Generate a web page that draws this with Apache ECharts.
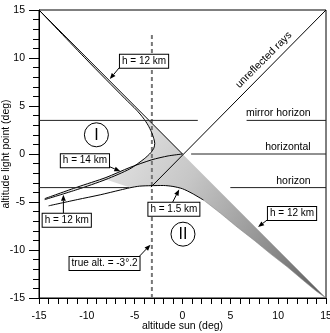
<!DOCTYPE html>
<html><head><meta charset="utf-8">
<script src="https://cdn.jsdelivr.net/npm/echarts@6/dist/echarts.min.js"></script>
<style>html,body{margin:0;padding:0;background:#fff}#c{width:330px;height:333px}</style>
</head><body><div id="c"></div>
<script>
// ---- data (degrees) ----
const unreflectedRays = [[-3.3,-3.45],[15,15]];
const diagH12 = [[-15,15],[0,0]];
const noseCurve = [[-15,15],[-10,9.8],[-6,5.75],[-4.8,4.57],[-4.1,3.75],[-3.6,3.0],[-3.25,2.3],[-3.0,1.6],[-2.9,1.1],[-3.0,0.6],[-3.3,0.15],[-4,-0.5],[-5.5,-1.55],[-8,-2.65],[-11,-3.7],[-14.4,-4.75]];
const lowerPair = [[-14.4,-4.65],[-11,-3.45],[-8,-2.45],[-5.5,-1.4],[-3.2,-0.6],[-1.5,-0.2],[0,0]];
const lowerBoundary = [[-14,-5.4],[-11,-4.75],[-8.6,-4.25],[-6.5,-3.75],[-5.5,-3.52],[-4.5,-3.35],[-3.3,-3.3],[-2,-3.28],[-1,-3.38],[0,-3.62],[1,-4.1],[2.2,-4.8]];
const bandLower = [[2.2,-4.8],[4,-6.2],[5.7,-7.6],[7.5,-9.0],[9.2,-10.4],[11,-11.8],[12.6,-13.15],[14,-14.3],[15,-15]];
const shadeRegion = [[-3.93,3.5],[-3.5,3.5],[0,0],[15,-15],[14,-14.3],[12.6,-13.15],[11,-11.8],[9.2,-10.4],[7.5,-9.0],[5.7,-7.6],[4,-6.2],[2.2,-4.8],[1,-4.1],[0,-3.62],[-1,-3.38],[-2,-3.28],[-3.3,-3.3],[-4.5,-3.35],[-5.5,-3.5],[-8,-2.65],[-11,-3.7],[-14.4,-4.72],[-11,-3.45],[-8,-2.45],[-5.5,-1.4],[-4.7,-1.1],[-4,-0.5],[-3.3,0.15],[-3.0,0.6],[-2.9,1.1],[-3.0,1.6],[-3.25,2.3],[-3.6,3.0]];
const mirrorHorizonL = [[-15,3.5],[1.6,3.5]];
const mirrorHorizonR = [[6.7,3.5],[15,3.5]];
const horizontalLine = [[0.9,0],[15,0]];
const horizonL = [[-15,-3.5],[-5.6,-3.5]];
const horizonR = [[5,-3.5],[15,-3.5]];
const trueAlt = [[-3.2,-15],[-3.2,12.6]];

const FONT = 'Liberation Sans, Arial, sans-serif';
const chart = echarts.init(document.getElementById('c'), null, {renderer:'canvas'});

function lineSeries(data, extra){
  return Object.assign({type:'line', data:data, symbol:'none', silent:true, animation:false, z:3,
    lineStyle:{color:'#000', width:1}}, extra||{});
}

const option = {
  animation:false,
  grid:{left:39, right:4, top:10, bottom:35, containLabel:false, outerBoundsMode:'none',
    show:true, borderColor:'#000', borderWidth:1, backgroundColor:'transparent'},
  xAxis:{type:'value', min:-15, max:15, interval:5,
    name:'altitude sun (deg)', nameLocation:'middle', nameGap:23, nameMoveOverlap:false,
    nameTextStyle:{color:'#000', fontSize:10.5, fontFamily:FONT},
    axisLine:{onZero:false, lineStyle:{color:'#000', width:1}},
    axisTick:{length:6, lineStyle:{color:'#000'}},
    minorTick:{show:true, splitNumber:5, length:6, lineStyle:{color:'#000'}},
    splitLine:{show:false},
    axisLabel:{color:'#000', fontSize:10.5, fontFamily:FONT, margin:13}},
  yAxis:{type:'value', min:-15, max:15, interval:5,
    name:'altitude light point (deg)', nameLocation:'middle', nameGap:27, nameRotate:90, nameMoveOverlap:false,
    nameTextStyle:{color:'#000', fontSize:10.5, fontFamily:FONT},
    axisLine:{onZero:false, lineStyle:{color:'#000', width:1}},
    axisTick:{length:10, lineStyle:{color:'#000'}},
    minorTick:{show:true, splitNumber:5, length:6, lineStyle:{color:'#000'}},
    splitLine:{show:false},
    axisLabel:{color:'#000', fontSize:10.5, fontFamily:FONT, margin:14}},
  series:[
    {type:'custom', coordinateSystem:'cartesian2d', data:[[0,0]], silent:true, z:1, clip:true,
      renderItem:function(params, api){
        const pts = shadeRegion.map(p=>api.coord(p));
        const a = api.coord([-14,2]), b = api.coord([15,-15]);
        return {type:'polygon', shape:{points:pts}, style:{
          fill:new echarts.graphic.LinearGradient(a[0],a[1],b[0],b[1],[
            {offset:0, color:'#ffffff'},{offset:0.12,color:'#f0f0f0'},{offset:0.22,color:'#e0e0e0'},
            {offset:0.32,color:'#d4d4d4'},{offset:0.45,color:'#c6c6c6'},{offset:0.6,color:'#acacac'},
            {offset:0.8,color:'#888888'},{offset:1,color:'#5a5a5a'}], true), stroke:null}};
      }},
    lineSeries(trueAlt, {lineStyle:{color:'#777', width:2, type:[4,3]}, z:2}),
    lineSeries(unreflectedRays),
    lineSeries(diagH12),
    lineSeries(noseCurve, {smooth:0.25}),
    lineSeries(lowerPair, {smooth:0.25}),
    lineSeries(lowerBoundary, {smooth:0.25}),
    lineSeries(bandLower, {smooth:0.2, lineStyle:{color:'#888', width:0.6}}),
    lineSeries(mirrorHorizonL, {lineStyle:{color:'#222', width:1}}),
    lineSeries(mirrorHorizonR, {lineStyle:{color:'#222', width:1}}),
    lineSeries(horizontalLine, {lineStyle:{color:'#222', width:1}}),
    lineSeries(horizonL, {lineStyle:{color:'#222', width:1}}),
    lineSeries(horizonR, {lineStyle:{color:'#222', width:1}})
  ]
};
chart.setOption(option);

// ---- annotations (anchored in data coordinates) ----
const boxes = [
  {text:'h = 12 km', at:[-4.02,9.65], from:[-6.6,9.0], to:[-7.6,7.8]},
  {text:'h = 14 km', at:[-10.2,-0.7], from:[-7.8,-1.25], to:[-6.5,-1.8]},
  {text:'h = 12 km', at:[-12.1,-6.9], from:[-12.45,-6.25], to:[-12.45,-4.25]},
  {text:'h = 1.5 km', at:[-0.9,-5.75], from:[-1.1,-5.15], to:[-0.35,-3.7]},
  {text:'h = 12 km', at:[11.45,-6.2], from:[8.95,-6.8], to:[7.9,-7.6]},
  {text:'true alt. = -3°.2', at:[-8.15,-11.4], from:[-4.5,-10.65], to:[-3.35,-9.45]}
];
const plain = [
  {text:'mirror horizon', at:[13.4,3.65]},
  {text:'horizontal', at:[13.4,0.15]},
  {text:'horizon', at:[13.4,-3.35]}
];
const circles = [{text:'I', at:[-9.0,2.0]},{text:'II', at:[0.05,-8.35]}];
const px = p => chart.convertToPixel({xAxisIndex:0, yAxisIndex:0}, p);
const g = [];
boxes.forEach(b=>{
  const c = px(b.at), f = px(b.from), t = px(b.to);
  const ang = Math.atan2(t[1]-f[1], t[0]-f[0]);
  const L = 6, W = 2.4;
  const bx = t[0]-L*Math.cos(ang), by = t[1]-L*Math.sin(ang);
  g.push({type:'line', z:100, shape:{x1:f[0],y1:f[1],x2:bx,y2:by}, style:{stroke:'#000', lineWidth:1}});
  g.push({type:'polygon', z:100, shape:{points:[[t[0],t[1]],[bx-W*Math.sin(ang),by+W*Math.cos(ang)],[bx+W*Math.sin(ang),by-W*Math.cos(ang)]]}, style:{fill:'#000'}});
  g.push({type:'text', z:101, x:c[0], y:c[1], style:{text:b.text, font:'10px '+FONT, fill:'#000', align:'center', verticalAlign:'middle',
    backgroundColor:'#fff', borderColor:'#000', borderWidth:1, padding:[2,2,1,2]}});
});
plain.forEach(b=>{
  const c = px(b.at);
  g.push({type:'text', z:101, x:c[0], y:c[1], style:{text:b.text, font:'10.5px '+FONT, fill:'#000', align:'right', verticalAlign:'bottom'}});
});
circles.forEach(b=>{
  const c = px(b.at);
  g.push({type:'circle', z:100, shape:{cx:c[0], cy:c[1], r:12}, style:{fill:'#fff', stroke:'#000', lineWidth:1}});
  g.push({type:'text', z:101, x:c[0], y:c[1]+0.5, style:{text:b.text, font:'16px '+FONT, fill:'#000', align:'center', verticalAlign:'middle'}});
});
{
  const c = px([8.5,9.8]);
  g.push({type:'text', z:101, x:c[0], y:c[1], rotation:Math.PI/4, style:{text:'unreflected rays', font:'10.5px '+FONT, fill:'#000', align:'center', verticalAlign:'middle'}});
}
chart.setOption({graphic:g});
</script>
</body></html>
